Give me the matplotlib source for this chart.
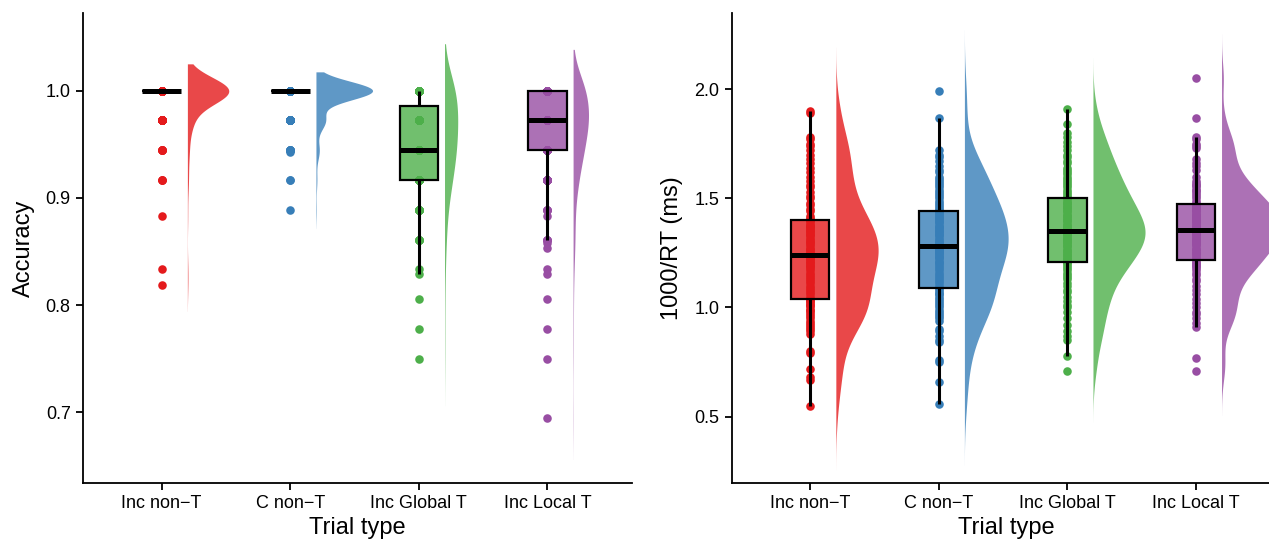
import numpy as np
import matplotlib
matplotlib.use("Agg")
import matplotlib.pyplot as plt
from matplotlib.colors import to_rgba
from matplotlib.patches import Rectangle

plt.rcParams['font.family'] = ['Liberation Sans', 'DejaVu Sans']

# categories and colours (Set1)
trial_types = ["Inc non\u2212T", "C non\u2212T", "Inc Global T", "Inc Local T"]
colors = ["#E41A1C", "#377EB8", "#4DAF4A", "#984EA3"]

# accuracy: distinct levels and how many participants sit on each
acc_inc_nonT_vals = [1.0, 35/36, 34/36, 33/36, 0.883, 30/36, 0.819]
acc_inc_nonT_counts = [124, 15, 5, 3, 1, 1, 1]
acc_c_nonT_vals = [1.0, 35/36, 34/36, 0.9425, 33/36, 32/36]
acc_c_nonT_counts = [120, 20, 6, 1, 2, 1]
acc_global_vals = [1.0, 35/36, 34/36, 33/36, 32/36, 31/36, 30/36, 0.829, 29/36, 28/36, 27/36]
acc_global_counts = [37, 36, 34, 22, 8, 5, 1, 1, 1, 1, 1]
acc_local_vals = [1.0, 35/36, 34/36, 33/36, 32/36, 0.883, 31/36, 0.858, 0.853,
                  30/36, 0.829, 29/36, 28/36, 27/36, 25/36]
acc_local_counts = [40, 45, 30, 15, 4, 1, 4, 1, 1, 1, 1, 1, 1, 1, 1]

# 1000/RT per participant
rt_inc_nonT = [0.55, 0.67, 0.68, 0.72, 0.79, 0.80, 0.88, 0.89, 0.90, 0.91, 0.92, 0.93, 0.94,
               0.95, 0.96, 0.97, 0.98, 0.99, 0.99, 1.00, 1.01, 1.01, 1.02, 1.03, 1.03,
               1.04, 1.05, 1.06, 1.07, 1.08, 1.09, 1.10, 1.11, 1.12, 1.13, 1.14, 1.15, 1.16,
               1.17, 1.18, 1.19, 1.19, 1.20, 1.21, 1.21, 1.22, 1.22, 1.23, 1.23, 1.24,
               1.24, 1.25, 1.25, 1.26, 1.27, 1.27, 1.28, 1.29, 1.30, 1.30, 1.31, 1.32, 1.33,
               1.33, 1.34, 1.35, 1.35, 1.36, 1.37, 1.37, 1.38, 1.38, 1.39, 1.40, 1.40,
               1.41, 1.42, 1.44, 1.45, 1.47, 1.48, 1.50, 1.51, 1.53, 1.55, 1.56, 1.58, 1.60,
               1.62, 1.64, 1.66, 1.68, 1.70, 1.72, 1.74, 1.75, 1.77, 1.78, 1.89, 1.90]
rt_c_nonT = [0.56, 0.66, 0.75, 0.76, 0.84, 0.85, 0.87, 0.89, 0.90, 0.94, 0.95, 0.96, 0.97,
             0.98, 0.99, 1.00, 1.01, 1.02, 1.03, 1.04, 1.05, 1.06, 1.06, 1.07, 1.08,
             1.09, 1.10, 1.11, 1.12, 1.13, 1.14, 1.15, 1.16, 1.17, 1.18, 1.19, 1.20, 1.21,
             1.21, 1.22, 1.23, 1.23, 1.24, 1.25, 1.25, 1.26, 1.26, 1.27, 1.27, 1.28,
             1.28, 1.29, 1.30, 1.30, 1.31, 1.32, 1.33, 1.33, 1.34, 1.35, 1.35, 1.36, 1.37,
             1.37, 1.38, 1.39, 1.39, 1.40, 1.41, 1.41, 1.42, 1.43, 1.43, 1.44, 1.44,
             1.45, 1.46, 1.47, 1.48, 1.49, 1.50, 1.51, 1.52, 1.53, 1.54, 1.55, 1.56, 1.57,
             1.58, 1.59, 1.60, 1.62, 1.63, 1.65, 1.67, 1.69, 1.70, 1.72, 1.87, 1.99]
rt_global = [0.71, 0.78, 0.85, 0.87, 0.89, 0.92, 0.95, 0.98, 1.00, 1.01, 1.03, 1.05, 1.07,
             1.08, 1.10, 1.11, 1.13, 1.14, 1.15, 1.16, 1.17, 1.18, 1.19, 1.20, 1.21,
             1.21, 1.22, 1.22, 1.23, 1.24, 1.24, 1.25, 1.26, 1.26, 1.27, 1.28, 1.28, 1.29,
             1.30, 1.30, 1.31, 1.31, 1.32, 1.32, 1.33, 1.33, 1.34, 1.34, 1.35, 1.35,
             1.35, 1.36, 1.36, 1.37, 1.37, 1.38, 1.38, 1.39, 1.40, 1.40, 1.41, 1.42, 1.42,
             1.43, 1.44, 1.44, 1.45, 1.46, 1.46, 1.47, 1.48, 1.48, 1.49, 1.50, 1.50,
             1.51, 1.52, 1.53, 1.54, 1.55, 1.56, 1.57, 1.58, 1.59, 1.60, 1.61, 1.62, 1.63,
             1.64, 1.66, 1.67, 1.69, 1.70, 1.72, 1.74, 1.76, 1.78, 1.80, 1.84, 1.91]
rt_local = [0.71, 0.77, 0.91, 0.93, 0.95, 0.97, 0.98, 1.00, 1.02, 1.04, 1.06, 1.08, 1.10,
            1.12, 1.13, 1.15, 1.16, 1.17, 1.18, 1.19, 1.19, 1.20, 1.20, 1.21, 1.21,
            1.22, 1.23, 1.24, 1.25, 1.25, 1.26, 1.27, 1.27, 1.28, 1.29, 1.29, 1.30, 1.30,
            1.31, 1.31, 1.32, 1.32, 1.33, 1.33, 1.34, 1.34, 1.34, 1.35, 1.35, 1.35,
            1.36, 1.36, 1.37, 1.37, 1.38, 1.38, 1.39, 1.39, 1.40, 1.40, 1.41, 1.41, 1.42,
            1.42, 1.43, 1.43, 1.44, 1.44, 1.45, 1.45, 1.46, 1.46, 1.47, 1.47, 1.47,
            1.48, 1.49, 1.50, 1.51, 1.52, 1.53, 1.54, 1.54, 1.55, 1.56, 1.56, 1.57, 1.58,
            1.60, 1.63, 1.65, 1.66, 1.68, 1.73, 1.74, 1.75, 1.77, 1.78, 1.87, 2.05]

acc_groups = [np.repeat(acc_inc_nonT_vals, acc_inc_nonT_counts),
              np.repeat(acc_c_nonT_vals, acc_c_nonT_counts),
              np.repeat(acc_global_vals, acc_global_counts),
              np.repeat(acc_local_vals, acc_local_counts)]
rt_groups = [np.array(rt_inc_nonT), np.array(rt_c_nonT), np.array(rt_global), np.array(rt_local)]


def bw_nrd0(x):
    hi = np.std(x, ddof=1)
    q75, q25 = np.percentile(x, [75, 25])
    lo = min(hi, (q75 - q25) / 1.34)
    if lo == 0:
        lo = hi
    return 0.9 * lo * len(x) ** -0.2


def kde(x, adjust=1.0, cut=3.0):
    bw = bw_nrd0(x) * adjust
    grid = np.linspace(x.min() - cut * bw, x.max() + cut * bw, 512)
    z = (grid[:, None] - x[None, :]) / bw
    dens = np.exp(-0.5 * z ** 2).sum(axis=1) / (len(x) * bw * np.sqrt(2 * np.pi))
    return grid, dens


def raincloud(ax, groups, max_width, adjust=1.0, cut=3.0):
    curves = [kde(g, adjust, cut) for g in groups]
    top = max(d.max() for _, d in curves)
    for i, (g, (grid, dens)) in enumerate(zip(groups, curves)):
        pos = i + 1
        col = colors[i]
        # half violin
        ax.fill_betweenx(grid, pos + 0.2, pos + 0.2 + dens / top * max_width,
                         color=col, alpha=0.8, lw=0, zorder=1)
        # raw points
        ax.scatter(np.full(len(g), pos), g, s=38, color=col, lw=0, zorder=2)
        # box
        q1, med, q3 = np.percentile(g, [25, 50, 75])
        iqr = q3 - q1
        lo = g[g >= q1 - 1.5 * iqr - 1e-9].min()
        hi = g[g <= q3 + 1.5 * iqr + 1e-9].max()
        ax.plot([pos, pos], [lo, q1], color="black", lw=2.2, zorder=3, solid_capstyle="butt")
        ax.plot([pos, pos], [q3, hi], color="black", lw=2.2, zorder=3, solid_capstyle="butt")
        ax.add_patch(Rectangle((pos - 0.15, q1), 0.3, q3 - q1, facecolor=to_rgba(col, 0.8),
                               edgecolor="black", lw=1.6, zorder=3))
        ax.plot([pos - 0.15, pos + 0.15], [med, med], color="black", lw=3.6, zorder=4,
                solid_capstyle="butt")


def style(ax, ylabel, yticks, ylim):
    ax.set_xlim(0.39, 4.66)
    ax.set_ylim(*ylim)
    ax.set_xticks([1, 2, 3, 4])
    ax.set_xticklabels(trial_types)
    ax.set_yticks(yticks)
    ax.set_yticklabels([f"{t:.1f}" for t in yticks])
    for s in ["top", "right"]:
        ax.spines[s].set_visible(False)
    for s in ["left", "bottom"]:
        ax.spines[s].set_linewidth(1.3)
    ax.tick_params(length=5, width=1.3, labelsize=13, pad=4, colors="black")
    ax.set_xlabel("Trial type", fontsize=17, labelpad=3)
    ax.set_ylabel(ylabel, fontsize=17, labelpad=8)


fig = plt.figure(figsize=(12.69, 5.45), dpi=100)
ax1 = fig.add_axes([0.0656, 0.1138, 0.4326, 0.8615])
ax2 = fig.add_axes([0.5766, 0.1138, 0.4326, 0.8615])

raincloud(ax1, acc_groups, 0.44, adjust=1.4, cut=2.0)
style(ax1, "Accuracy", [0.7, 0.8, 0.9, 1.0], (0.634, 1.072))

raincloud(ax2, rt_groups, 0.47)
style(ax2, "1000/RT (ms)", [0.5, 1.0, 1.5, 2.0], (0.196, 2.347))

fig.savefig("out.png", dpi=100)
